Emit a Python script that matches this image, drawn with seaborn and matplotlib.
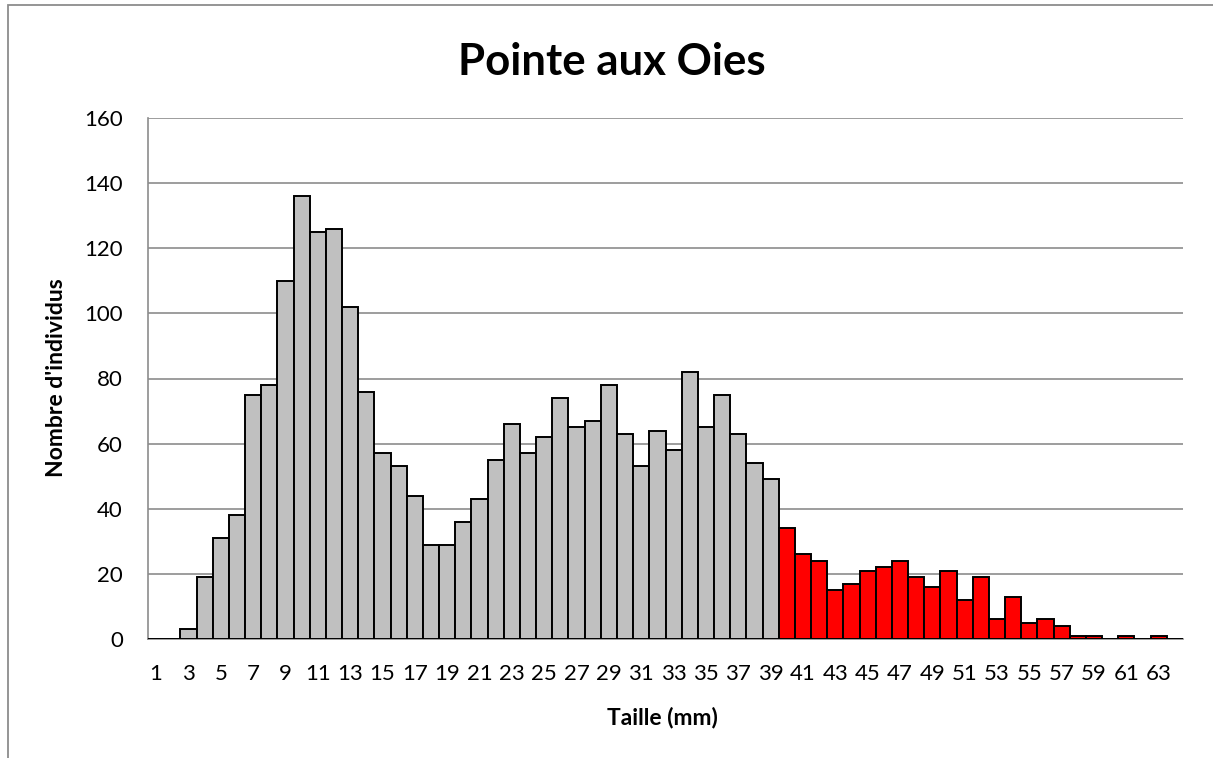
import matplotlib
matplotlib.use("Agg")
import matplotlib.pyplot as plt
from matplotlib.patches import Rectangle
import seaborn as sns
import pandas as pd
import numpy as np

sizes = list(range(1, 65))
counts = [0, 0, 3, 19, 31, 38, 75, 78, 110, 136,
          125, 126, 102, 76, 57, 53, 44, 29, 29, 36,
          43, 55, 66, 57, 62, 74, 65, 67, 78, 63,
          53, 64, 58, 82, 65, 75, 63, 54, 49, 34,
          26, 24, 15, 17, 21, 22, 24, 19, 16, 21,
          12, 19, 6, 13, 5, 6, 4, 1, 1, 0,
          1, 0, 1, 0]
groups = ["gris" if s < 40 else "rouge" for s in sizes]
group_colors = {"gris": "#c0c0c0", "rouge": "#ff0000"}
yticks = [0, 20, 40, 60, 80, 100, 120, 140, 160]

title = "Pointe aux Oies"
xlabel = "Taille (mm)"
ylabel = "Nombre d'individus"

df = pd.DataFrame({"taille": [str(s) for s in sizes], "n": counts, "groupe": groups})

sns.set_style("white")
plt.rcParams["font.family"] = ["Lato", "DejaVu Sans"]
plt.rcParams["text.color"] = "black"
plt.rcParams["xtick.labelcolor"] = "black"
plt.rcParams["ytick.labelcolor"] = "black"

fig = plt.figure(figsize=(12.13, 7.58), dpi=100)
ax = fig.add_axes([148/1213, 1-639/758, (1183-148)/1213, (639-118)/758])

sns.barplot(data=df, x="taille", y="n", hue="groupe", palette=group_colors,
            dodge=False, width=1.0, edgecolor="black", linewidth=1.4,
            saturation=1, legend=False, ax=ax, zorder=3)

ax.set_xlim(-0.5, len(sizes) - 0.5)
ax.set_ylim(0, 160)
ax.set_yticks(yticks)
ax.set_yticklabels([str(t) for t in yticks], fontsize=16, color="black")
ax.yaxis.grid(True, color="#8c8c8c", linewidth=1.2, zorder=0)
ax.set_axisbelow(True)

major = list(range(0, len(sizes), 2))
ax.set_xticks(major)
ax.set_xticklabels([str(sizes[i]) for i in major], fontsize=16, color="black")
ax.tick_params(axis="x", which="major", length=0, pad=18)
ax.set_xticks(np.arange(-0.5, len(sizes), 1.0), minor=True)
ax.tick_params(axis="x", which="minor", length=5.5, color="#8c8c8c", width=1.2, direction="out")
ax.tick_params(axis="y", which="major", length=6, color="#8c8c8c", width=1.2, direction="out", pad=12)

for s in ["top", "right"]:
    ax.spines[s].set_visible(False)
for s in ["left", "bottom"]:
    ax.spines[s].set_color("#8c8c8c")
    ax.spines[s].set_linewidth(1.2)

ax.set_xlabel("")
ax.set_ylabel("")
fig.text(662/1213, 1-717/758, xlabel, ha="center", va="center", fontsize=16.5, fontweight="bold", color="black")
fig.text(57/1213, 1-378/758, ylabel, ha="center", va="center", rotation=90, fontsize=16.5, fontweight="bold", color="black")
fig.text(612/1213, 1-62/758, title, ha="center", va="center", fontsize=31.5, fontweight="bold", color="black")

fig.patches.append(Rectangle((8/1213, -0.02), 1.1, 1 - 5/758 + 0.02, transform=fig.transFigure,
                             fill=False, edgecolor="#8c8c8c", linewidth=1.3))

fig.savefig("out.png", dpi=100)
